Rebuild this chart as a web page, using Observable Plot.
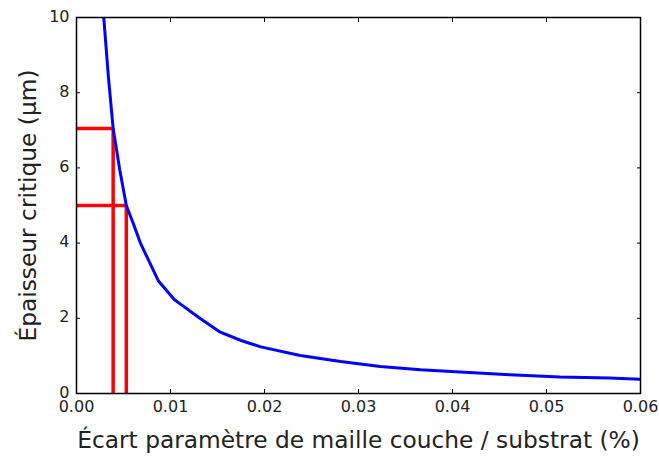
<!DOCTYPE html>
<html>
<head>
<meta charset="utf-8">
<script src="https://cdn.jsdelivr.net/npm/d3@7"></script>
<script src="https://cdn.jsdelivr.net/npm/@observablehq/plot@0.6"></script>
<style>
  html, body { margin: 0; padding: 0; background: #fff; }
  #chart svg { display: block; }
</style>
</head>
<body>
<div id="chart"></div>
<script>
// Curve: critical thickness (µm) vs lattice mismatch
const mismatch = [0.0029, 0.0034, 0.0039, 0.0046, 0.0053, 0.0060, 0.0068, 0.0087, 0.0104, 0.0111, 0.0132, 0.0153, 0.0175, 0.0196, 0.0238, 0.0281, 0.0323, 0.0366, 0.0408, 0.0461, 0.0514, 0.0567, 0.0600];
const thickness = [10.0, 8.4, 7.05, 5.95, 5.0, 4.55, 4.0, 3.0, 2.5, 2.37, 1.99, 1.63, 1.41, 1.24, 1.01, 0.85, 0.72, 0.63, 0.57, 0.50, 0.44, 0.41, 0.38];

// Red guide lines (target thicknesses and matching mismatches)
const guideThickness = [7.05, 5.0];
const guideMismatch = [0.0039, 0.0053];

const xTicks = [0, 0.01, 0.02, 0.03, 0.04, 0.05, 0.06];
const yTicks = [0, 2, 4, 6, 8, 10];

const xLabel = "Écart paramètre de maille couche / substrat (%)";
const yLabel = "Épaisseur critique (µm)";

const curve = mismatch.map((x, i) => ({x, y: thickness[i]}));
const guides = guideMismatch.map((x, i) => ({x, y: guideThickness[i]}));

const font = "DejaVu Sans, sans-serif";

const chart = Plot.plot({
  width: 659,
  height: 457,
  marginLeft: 76,
  marginRight: 19,
  marginTop: 17,
  marginBottom: 64,
  style: {fontFamily: font, fontSize: "16px", color: "#222", background: "#fff"},
  x: {domain: [0, 0.06], ticks: xTicks, tickFormat: ".2f"},
  y: {domain: [0, 10], ticks: yTicks},
  marks: [
    // inward ticks on all four sides
    Plot.axisX({anchor: "bottom", ticks: xTicks, tickSize: -4, tickFormat: () => "", label: null, stroke: "#000"}),
    Plot.axisX({anchor: "top", ticks: xTicks, tickSize: -4, tickFormat: () => "", label: null, stroke: "#000"}),
    Plot.axisY({anchor: "left", ticks: yTicks, tickSize: -4, tickFormat: () => "", label: null, stroke: "#000"}),
    Plot.axisY({anchor: "right", ticks: yTicks, tickSize: -4, tickFormat: () => "", label: null, stroke: "#000"}),
    // tick labels
    Plot.axisX({anchor: "bottom", ticks: xTicks, tickSize: 0, tickPadding: 7, tickFormat: ".2f", label: null, fill: "#222", fontSize: 16}),
    Plot.axisY({anchor: "left", ticks: yTicks, tickSize: 0, tickPadding: 7, label: null, fill: "#222", fontSize: 16, dy: -1}),
    // red guides
    Plot.ruleY(guides, {y: "y", x1: 0, x2: "x", stroke: "#ff0000", strokeWidth: 3.5}),
    Plot.ruleX(guides, {x: "x", y1: 0, y2: "y", stroke: "#ff0000", strokeWidth: 3.5}),
    // curve
    Plot.line(curve, {x: "x", y: "y", stroke: "#0000ff", strokeWidth: 3, curve: "linear", clip: true}),
    Plot.frame({stroke: "#000", strokeWidth: 1.5}),
    // axis titles
    Plot.text([xLabel], {frameAnchor: "bottom", dy: 47, text: d => d, fontSize: 23.3, fill: "#222", lineAnchor: "middle"}),
    Plot.text([yLabel], {frameAnchor: "left", dx: -48, rotate: -90, text: d => d, fontSize: 23.3, fill: "#222", textAnchor: "middle", lineAnchor: "middle"})
  ]
});

document.getElementById("chart").appendChild(chart);
</script>
</body>
</html>
